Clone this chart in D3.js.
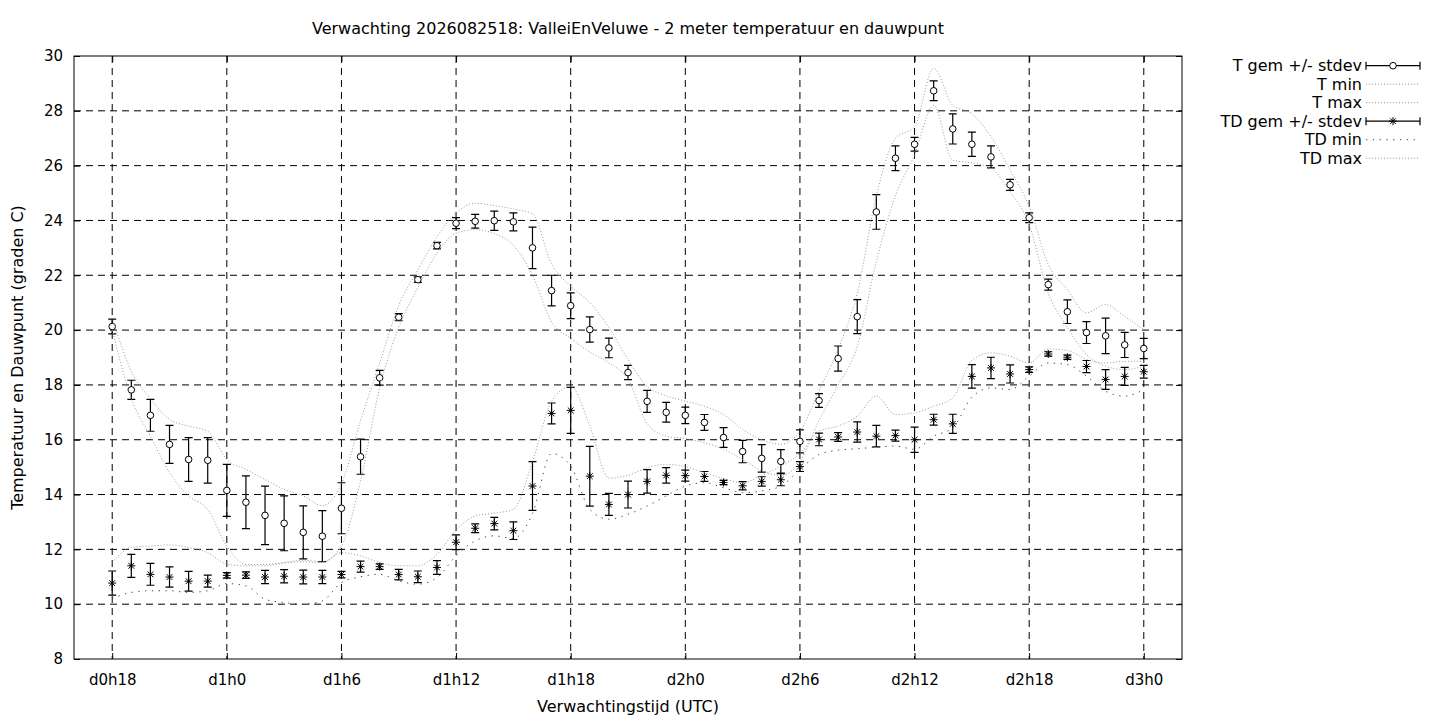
<!DOCTYPE html>
<html>
<head>
<meta charset="utf-8">
<script src="https://cdn.jsdelivr.net/npm/d3@7"></script>
<style>
  body { margin: 0; background: #fff; }
  svg { display: block; font-family: "DejaVu Sans", sans-serif; }
</style>
</head>
<body>
<svg width="1440" height="720"></svg>
<script>
(function () {

  // forecast hours, d0h18 .. d3h0
  var hours = d3.range(18, 73)

  var xTickHours = [18, 24, 30, 36, 42, 48, 54, 60, 66, 72]
  var xTickLabels = ['d0h18', 'd1h0', 'd1h6', 'd1h12', 'd1h18', 'd2h0', 'd2h6', 'd2h12', 'd2h18', 'd3h0']
  var yTicks = [8, 10, 12, 14, 16, 18, 20, 22, 24, 26, 28, 30]

  // 2 meter temperature
  var tMean = [20.13, 17.82, 16.89, 15.83, 15.28, 15.25, 14.15, 13.72, 13.24, 12.95, 12.62, 12.48, 13.50,
    15.38, 18.26, 20.47, 21.84, 23.08, 23.90, 23.97, 23.99, 23.95, 23.00, 21.44, 20.89, 20.02, 19.35,
    18.45, 17.40, 17.00, 16.89, 16.63, 16.08, 15.57, 15.32, 15.21, 15.94, 17.43, 18.96, 20.49, 24.31,
    26.27, 26.78, 28.73, 27.34, 26.78, 26.32, 25.30, 24.10, 21.66, 20.67, 19.91, 19.79, 19.46, 19.33]
  var tStdev = [0.27, 0.35, 0.58, 0.69, 0.80, 0.83, 0.95, 0.96, 1.07, 1.00, 0.97, 0.93, 0.93,
    0.64, 0.27, 0.13, 0.10, 0.12, 0.20, 0.25, 0.35, 0.33, 0.76, 0.56, 0.47, 0.46, 0.36,
    0.26, 0.40, 0.36, 0.30, 0.29, 0.36, 0.41, 0.50, 0.43, 0.42, 0.25, 0.46, 0.62, 0.63,
    0.45, 0.25, 0.36, 0.55, 0.44, 0.40, 0.20, 0.18, 0.20, 0.43, 0.40, 0.65, 0.46, 0.37]
  var tMin = [20.00, 17.50, 16.13, 14.80, 13.95, 13.46, 12.12, 11.45, 11.45, 11.52, 11.60, 11.55, 12.12,
    14.50, 17.90, 20.10, 21.55, 22.80, 23.54, 23.66, 23.52, 23.10, 22.00, 20.30, 19.70, 19.20, 18.80,
    18.20, 16.60, 16.13, 16.04, 15.89, 15.65, 15.28, 14.86, 14.70, 15.20, 16.70, 18.00, 19.40, 22.50,
    24.90, 26.40, 28.20, 26.20, 26.10, 25.90, 25.05, 23.85, 21.35, 20.10, 19.11, 18.68, 18.56, 18.68]
  var tMax = [20.45, 18.50, 17.50, 16.74, 16.50, 16.31, 15.28, 14.92, 14.55, 14.19, 13.95, 13.60, 14.40,
    16.70, 18.80, 20.90, 22.20, 23.40, 24.27, 24.63, 24.54, 24.42, 24.24, 22.40, 21.60, 21.00, 20.10,
    18.93, 17.95, 17.60, 17.41, 17.22, 16.92, 16.38, 16.00, 15.83, 16.30, 17.80, 19.30, 21.35, 24.90,
    27.00, 27.42, 29.55, 28.20, 27.90, 27.06, 25.85, 24.51, 22.39, 21.48, 20.63, 20.93, 20.50, 20.02]

  // dew point
  var tdMean = [10.77, 11.40, 11.09, 10.99, 10.84, 10.84, 11.05, 11.06, 10.99, 11.02, 10.99, 10.99, 11.08,
    11.37, 11.37, 11.08, 11.00, 11.34, 12.26, 12.77, 12.94, 12.68, 14.31, 16.96, 17.07, 14.67, 13.64,
    14.00, 14.48, 14.70, 14.69, 14.66, 14.44, 14.32, 14.48, 14.54, 15.02, 16.01, 16.10, 16.28, 16.13,
    16.15, 16.00, 16.73, 16.58, 18.31, 18.62, 18.40, 18.56, 19.13, 19.01, 18.67, 18.20, 18.31, 18.48]
  var tdStdev = [0.44, 0.42, 0.40, 0.37, 0.36, 0.22, 0.10, 0.12, 0.24, 0.24, 0.25, 0.24, 0.12,
    0.20, 0.10, 0.19, 0.21, 0.25, 0.27, 0.16, 0.23, 0.32, 0.89, 0.38, 0.84, 1.09, 0.40,
    0.49, 0.43, 0.28, 0.20, 0.18, 0.08, 0.15, 0.17, 0.22, 0.18, 0.23, 0.16, 0.37, 0.39,
    0.20, 0.46, 0.20, 0.35, 0.43, 0.39, 0.33, 0.10, 0.08, 0.08, 0.22, 0.36, 0.33, 0.23]
  var tdMin = [10.20, 10.43, 10.49, 10.49, 10.43, 10.49, 10.75, 10.67, 10.18, 10.06, 10.00, 10.12, 10.79,
    11.00, 11.09, 10.85, 10.73, 10.97, 11.76, 12.31, 12.49, 12.40, 13.30, 15.50, 15.04, 13.46, 13.10,
    13.28, 13.58, 13.95, 14.31, 14.43, 14.25, 14.07, 14.13, 14.31, 14.92, 15.46, 15.62, 15.67, 15.73,
    15.77, 15.65, 16.13, 16.43, 17.55, 17.89, 17.83, 18.32, 18.80, 18.74, 18.32, 17.77, 17.59, 17.83]
  var tdMax = [11.52, 12.07, 12.12, 12.16, 12.07, 11.88, 11.46, 11.40, 11.40, 11.50, 11.55, 11.52, 11.88,
    11.76, 11.52, 11.40, 11.40, 11.82, 12.70, 13.22, 13.32, 13.46, 15.20, 17.40, 17.95, 16.50, 14.60,
    14.70, 14.98, 15.10, 15.02, 14.80, 14.58, 14.43, 14.70, 15.04, 15.50, 16.31, 16.50, 16.86, 17.59,
    16.92, 16.98, 17.22, 17.53, 18.90, 19.17, 19.05, 18.80, 19.31, 19.26, 18.93, 18.80, 18.86, 18.86]

  var legendLabels = ['T gem +/- stdev', 'T min', 'T max', 'TD gem +/- stdev', 'TD min', 'TD max']

  var svg = d3.select('svg')

  var left = 74, right = 1182, top = 56, bottom = 659

  var x = d3.scaleLinear().domain([16, 74]).range([left, right])
  var y = d3.scaleLinear().domain([8, 30]).range([bottom, top])

  // dashed grid
  svg.append('g').selectAll('line')
    .data(yTicks.slice(1, -1))
    .enter().append('line')
    .attr('x1', left).attr('x2', right)
    .attr('y1', d => y(d)).attr('y2', d => y(d))
    .attr('stroke', 'black').attr('stroke-width', 1)
    .attr('stroke-dasharray', '7,5')

  svg.append('g').selectAll('line')
    .data(xTickHours)
    .enter().append('line')
    .attr('x1', d => x(d)).attr('x2', d => x(d))
    .attr('y1', top).attr('y2', bottom)
    .attr('stroke', 'black').attr('stroke-width', 1)
    .attr('stroke-dasharray', '7,5')

  // axes, ticks pointing inwards like gnuplot
  svg.append('g')
    .attr('transform', 'translate(0,' + bottom + ')')
    .call(d3.axisBottom(x).tickValues(xTickHours)
      .tickFormat((d, i) => xTickLabels[i])
      .tickSizeInner(-6).tickSizeOuter(0).tickPadding(15))
  svg.append('g')
    .attr('transform', 'translate(' + left + ',0)')
    .call(d3.axisLeft(y).tickValues(yTicks)
      .tickSizeInner(-6).tickSizeOuter(0).tickPadding(11))

  svg.append('g')
    .attr('transform', 'translate(' + right + ',0)')
    .call(d3.axisRight(y).tickValues(yTicks).tickFormat('')
      .tickSizeInner(-6).tickSizeOuter(0))
  svg.append('g')
    .attr('transform', 'translate(0,' + top + ')')
    .call(d3.axisTop(x).tickValues(xTickHours).tickFormat('')
      .tickSizeInner(-6).tickSizeOuter(0))

  svg.selectAll('.domain').remove()
  svg.selectAll('.tick text')
    .attr('font-family', '"DejaVu Sans", sans-serif')
    .attr('font-size', 15)
    .attr('fill', 'black')

  svg.append('rect')
    .attr('x', left).attr('y', top)
    .attr('width', right - left).attr('height', bottom - top)
    .attr('fill', 'none').attr('stroke', 'black').attr('stroke-width', 1)

  // texts
  svg.append('text')
    .attr('x', (left + right) / 2).attr('y', 34)
    .attr('text-anchor', 'middle').attr('font-size', 16)
    .text('Verwachting 2026082518: ValleiEnVeluwe - 2 meter temperatuur en dauwpunt')

  svg.append('text')
    .attr('x', (left + right) / 2).attr('y', 712)
    .attr('text-anchor', 'middle').attr('font-size', 16)
    .text('Verwachtingstijd (UTC)')

  svg.append('text')
    .attr('transform', 'translate(23,' + (top + bottom) / 2 + ') rotate(-90)')
    .attr('text-anchor', 'middle').attr('font-size', 16)
    .text('Temperatuur en Dauwpunt (graden C)')

  var thinDots = { stroke: '#9a9a9a', dash: '1,2' }
  var wideDots = { stroke: '#444', dash: '1.3,5.5' }

  function envelope(values, style) {
    var line = d3.line()
      .x((d, i) => x(hours[i]))
      .y(d => y(d))
      .curve(d3.curveMonotoneX)
    svg.append('path')
      .datum(values)
      .attr('d', line)
      .attr('fill', 'none')
      .attr('stroke', style.stroke)
      .attr('stroke-width', 1)
      .attr('stroke-dasharray', style.dash)
  }

  function errorBars(mean, sd) {
    var g = svg.append('g').attr('stroke', 'black').attr('stroke-width', 1.2)
    g.selectAll('.bar')
      .data(mean)
      .enter().append('path')
      .attr('fill', 'none')
      .attr('d', function(d, i) {
        var cx = x(hours[i])
        var y1 = y(d - sd[i]), y2 = y(d + sd[i])
        return 'M' + cx + ',' + y1 + 'V' + y2 +
          'M' + (cx - 4) + ',' + y1 + 'H' + (cx + 4) +
          'M' + (cx - 4) + ',' + y2 + 'H' + (cx + 4)
      })
  }

  function circles(mean) {
    svg.append('g').selectAll('circle')
      .data(mean)
      .enter().append('circle')
      .attr('cx', (d, i) => x(hours[i]))
      .attr('cy', d => y(d))
      .attr('r', 3.3)
      .attr('fill', 'white')
      .attr('stroke', 'black')
      .attr('stroke-width', 1)
  }

  function star(cx, cy, s) {
    var k = s * 0.72
    return 'M' + (cx - s) + ',' + cy + 'H' + (cx + s) +
      'M' + cx + ',' + (cy - s) + 'V' + (cy + s) +
      'M' + (cx - k) + ',' + (cy - k) + 'L' + (cx + k) + ',' + (cy + k) +
      'M' + (cx - k) + ',' + (cy + k) + 'L' + (cx + k) + ',' + (cy - k)
  }

  function stars(mean) {
    svg.append('g').selectAll('path')
      .data(mean)
      .enter().append('path')
      .attr('d', (d, i) => star(x(hours[i]), y(d), 4))
      .attr('stroke', 'black')
      .attr('stroke-width', 1)
  }

  // T series
  errorBars(tMean, tStdev)
  circles(tMean)
  envelope(tMin, thinDots)
  envelope(tMax, thinDots)

  // TD series
  errorBars(tdMean, tdStdev)
  stars(tdMean)
  envelope(tdMin, wideDots)
  envelope(tdMax, thinDots)

  // legend
  var legendY = [65.7, 84.2, 102.7, 121.2, 139.7, 158.2]
  var lx1 = 1366, lx2 = 1420, lmid = 1393
  var legend = svg.append('g')
  legend.selectAll('text')
    .data(legendLabels)
    .enter().append('text')
    .attr('x', 1362)
    .attr('y', (d, i) => legendY[i])
    .attr('dy', '0.35em')
    .attr('text-anchor', 'end')
    .attr('font-size', 16)
    .text(d => d)

  var legendStyles = [null, thinDots, thinDots, null, wideDots, thinDots]
  legendStyles.forEach(function(st, i) {
    var ly = legendY[i]
    if (st) {
      legend.append('line')
        .attr('x1', lx1).attr('x2', lx2).attr('y1', ly).attr('y2', ly)
        .attr('stroke', st.stroke).attr('stroke-dasharray', st.dash)
    } else {
      legend.append('path')
        .attr('d', 'M' + lx1 + ',' + ly + 'H' + lx2 +
          'M' + lx1 + ',' + (ly - 4) + 'V' + (ly + 4) +
          'M' + lx2 + ',' + (ly - 4) + 'V' + (ly + 4))
        .attr('stroke', 'black').attr('stroke-width', 1.2).attr('fill', 'none')
      if (i === 0) {
        legend.append('circle')
          .attr('cx', lmid).attr('cy', ly).attr('r', 3.3)
          .attr('fill', 'white').attr('stroke', 'black')
      } else {
        legend.append('path')
          .attr('d', star(lmid, ly, 4))
          .attr('stroke', 'black')
      }
    }
  })

})()
</script>
</body>
</html>
